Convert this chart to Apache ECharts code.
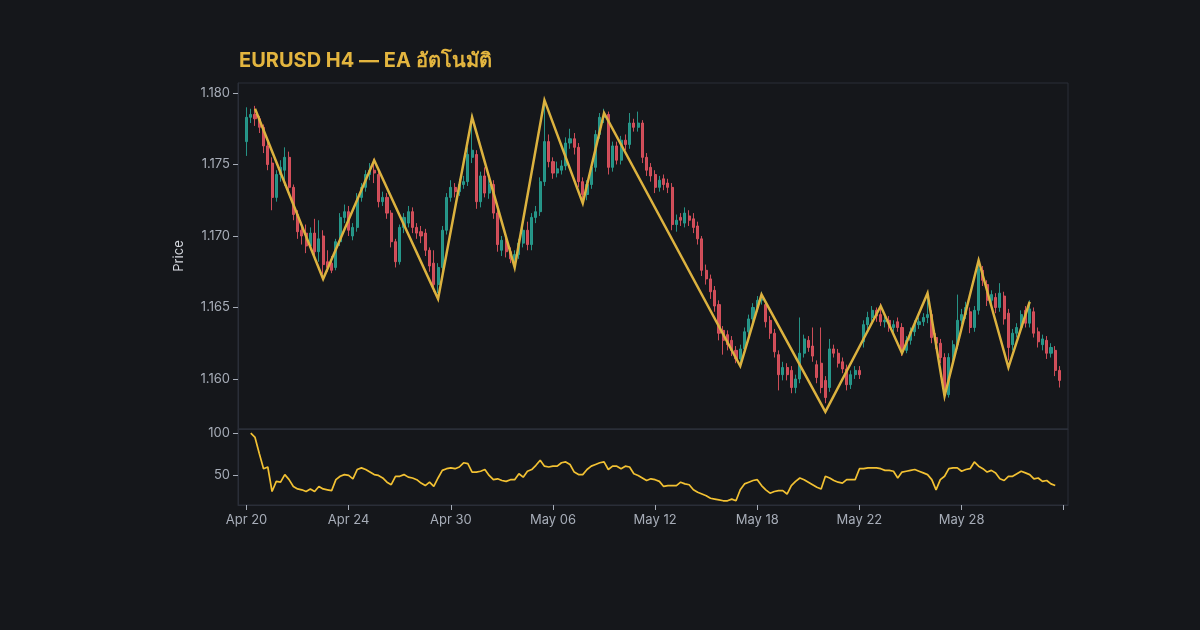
<!DOCTYPE html>
<html>
<head>
<meta charset="utf-8">
<title>EURUSD H4</title>
<script src="https://cdn.jsdelivr.net/npm/echarts@6/dist/echarts.min.js"></script>
<style>
  html, body { margin: 0; padding: 0; background: #15171b; }
  #chart { width: 1200px; height: 630px; }
</style>
</head>
<body>
<div id="chart"></div>
<script>
// x axis labels (every 24 H4 bars = 4 trading days)
const dateLabels = ['Apr 20', 'Apr 24', 'Apr 30', 'May 06', 'May 12', 'May 18', 'May 22', 'May 28'];
const labelBars = [0, 24, 48, 72, 96, 120, 144, 168];
const tickBars = [0, 24, 48, 72, 96, 120, 144, 168, 192];

const priceTicks = [1.160, 1.165, 1.170, 1.175, 1.180];
const rsiTicks = [50, 100];

// H4 candles: [open, close, low, high]
const ohlc = [
  [1.1766, 1.1783, 1.1756, 1.1790], [1.1783, 1.1785, 1.1779, 1.1789], [1.1785, 1.1782, 1.1777, 1.1791],
  [1.1782, 1.1776, 1.1772, 1.1784], [1.1776, 1.1763, 1.1758, 1.1778], [1.1763, 1.1750, 1.1746, 1.1766],
  [1.1751, 1.1727, 1.1718, 1.1755], [1.1727, 1.1743, 1.1724, 1.1746], [1.1743, 1.1748, 1.1738, 1.1753],
  [1.1746, 1.1755, 1.1735, 1.1762], [1.1755, 1.1734, 1.1730, 1.1759], [1.1734, 1.1715, 1.1711, 1.1736],
  [1.1715, 1.1703, 1.1698, 1.1718], [1.1704, 1.1700, 1.1694, 1.1709], [1.1702, 1.1693, 1.1688, 1.1708],
  [1.1693, 1.1702, 1.1690, 1.1706], [1.1702, 1.1689, 1.1684, 1.1712], [1.1689, 1.1698, 1.1682, 1.1711],
  [1.1700, 1.1680, 1.1673, 1.1704], [1.1682, 1.1678, 1.1675, 1.1690], [1.1681, 1.1676, 1.1674, 1.1686],
  [1.1678, 1.1696, 1.1676, 1.1698], [1.1696, 1.1713, 1.1693, 1.1716], [1.1713, 1.1717, 1.1709, 1.1722],
  [1.1717, 1.1704, 1.1700, 1.1721], [1.1700, 1.1706, 1.1697, 1.1709], [1.1706, 1.1727, 1.1703, 1.1730],
  [1.1727, 1.1734, 1.1724, 1.1737], [1.1734, 1.1743, 1.1731, 1.1746], [1.1743, 1.1746, 1.1739, 1.1751],
  [1.1746, 1.1744, 1.1737, 1.1754], [1.1743, 1.1724, 1.1720, 1.1746], [1.1724, 1.1727, 1.1721, 1.1731],
  [1.1727, 1.1716, 1.1712, 1.1730], [1.1716, 1.1696, 1.1692, 1.1718], [1.1696, 1.1682, 1.1678, 1.1698],
  [1.1682, 1.1706, 1.1680, 1.1708], [1.1706, 1.1713, 1.1702, 1.1716], [1.1709, 1.1717, 1.1706, 1.1721],
  [1.1717, 1.1706, 1.1702, 1.1720], [1.1706, 1.1702, 1.1698, 1.1709], [1.1703, 1.1700, 1.1695, 1.1707],
  [1.1702, 1.1690, 1.1686, 1.1705], [1.1690, 1.1679, 1.1675, 1.1692], [1.1681, 1.1666, 1.1661, 1.1690],
  [1.1666, 1.1678, 1.1660, 1.1681], [1.1678, 1.1704, 1.1675, 1.1707], [1.1704, 1.1727, 1.1701, 1.1730],
  [1.1727, 1.1734, 1.1724, 1.1739], [1.1734, 1.1731, 1.1727, 1.1737], [1.1731, 1.1736, 1.1728, 1.1740],
  [1.1736, 1.1738, 1.1733, 1.1742], [1.1738, 1.1757, 1.1735, 1.1762], [1.1755, 1.1760, 1.1751, 1.1785],
  [1.1757, 1.1724, 1.1719, 1.1760], [1.1724, 1.1742, 1.1720, 1.1745], [1.1742, 1.1730, 1.1727, 1.1748],
  [1.1730, 1.1736, 1.1726, 1.1740], [1.1736, 1.1716, 1.1712, 1.1739], [1.1716, 1.1694, 1.1689, 1.1718],
  [1.1690, 1.1697, 1.1686, 1.1700], [1.1697, 1.1689, 1.1685, 1.1700], [1.1689, 1.1684, 1.1681, 1.1692],
  [1.1682, 1.1687, 1.1678, 1.1690], [1.1687, 1.1695, 1.1684, 1.1698], [1.1695, 1.1704, 1.1692, 1.1707],
  [1.1704, 1.1694, 1.1690, 1.1710], [1.1694, 1.1713, 1.1690, 1.1716], [1.1713, 1.1717, 1.1709, 1.1721],
  [1.1717, 1.1738, 1.1714, 1.1741], [1.1738, 1.1766, 1.1735, 1.1796], [1.1766, 1.1752, 1.1748, 1.1771],
  [1.1752, 1.1744, 1.1740, 1.1755], [1.1744, 1.1747, 1.1741, 1.1752], [1.1746, 1.1749, 1.1743, 1.1753],
  [1.1749, 1.1765, 1.1746, 1.1769], [1.1765, 1.1768, 1.1761, 1.1775], [1.1768, 1.1762, 1.1757, 1.1772],
  [1.1762, 1.1738, 1.1734, 1.1765], [1.1738, 1.1729, 1.1722, 1.1741], [1.1729, 1.1736, 1.1725, 1.1739],
  [1.1736, 1.1748, 1.1733, 1.1751], [1.1748, 1.1771, 1.1745, 1.1774], [1.1771, 1.1783, 1.1768, 1.1786],
  [1.1783, 1.1785, 1.1779, 1.1789], [1.1785, 1.1748, 1.1743, 1.1787], [1.1748, 1.1763, 1.1745, 1.1766],
  [1.1763, 1.1753, 1.1750, 1.1766], [1.1753, 1.1767, 1.1750, 1.1770], [1.1767, 1.1764, 1.1760, 1.1771],
  [1.1764, 1.1779, 1.1761, 1.1786], [1.1779, 1.1776, 1.1773, 1.1782], [1.1776, 1.1779, 1.1773, 1.1787],
  [1.1779, 1.1755, 1.1751, 1.1781], [1.1755, 1.1746, 1.1742, 1.1758], [1.1748, 1.1742, 1.1738, 1.1751],
  [1.1743, 1.1734, 1.1730, 1.1746], [1.1734, 1.1739, 1.1731, 1.1742], [1.1740, 1.1736, 1.1732, 1.1743],
  [1.1737, 1.1734, 1.1730, 1.1740], [1.1734, 1.1708, 1.1704, 1.1737], [1.1708, 1.1711, 1.1703, 1.1715],
  [1.1713, 1.1711, 1.1707, 1.1716], [1.1709, 1.1716, 1.1706, 1.1720], [1.1714, 1.1711, 1.1707, 1.1718],
  [1.1712, 1.1706, 1.1702, 1.1716], [1.1707, 1.1698, 1.1694, 1.1710], [1.1698, 1.1676, 1.1672, 1.1700],
  [1.1676, 1.1670, 1.1666, 1.1680], [1.1670, 1.1661, 1.1656, 1.1673], [1.1662, 1.1651, 1.1647, 1.1665],
  [1.1652, 1.1632, 1.1627, 1.1655], [1.1634, 1.1627, 1.1617, 1.1637], [1.1631, 1.1624, 1.1620, 1.1634],
  [1.1627, 1.1620, 1.1616, 1.1630], [1.1620, 1.1614, 1.1611, 1.1623], [1.1614, 1.1621, 1.1610, 1.1624],
  [1.1621, 1.1633, 1.1618, 1.1636], [1.1633, 1.1642, 1.1630, 1.1645], [1.1642, 1.1650, 1.1639, 1.1653],
  [1.1650, 1.1655, 1.1647, 1.1658], [1.1655, 1.1656, 1.1652, 1.1661], [1.1652, 1.1640, 1.1636, 1.1655],
  [1.1641, 1.1632, 1.1628, 1.1644], [1.1632, 1.1619, 1.1615, 1.1635], [1.1617, 1.1603, 1.1592, 1.1620],
  [1.1603, 1.1608, 1.1599, 1.1612], [1.1608, 1.1603, 1.1599, 1.1611], [1.1606, 1.1594, 1.1590, 1.1609],
  [1.1594, 1.1600, 1.1590, 1.1603], [1.1600, 1.1618, 1.1597, 1.1643], [1.1618, 1.1628, 1.1615, 1.1631],
  [1.1627, 1.1622, 1.1619, 1.1630], [1.1623, 1.1616, 1.1612, 1.1636], [1.1610, 1.1601, 1.1597, 1.1613],
  [1.1611, 1.1594, 1.1590, 1.1636], [1.1599, 1.1587, 1.1583, 1.1602], [1.1594, 1.1621, 1.1591, 1.1628],
  [1.1621, 1.1618, 1.1615, 1.1624], [1.1618, 1.1611, 1.1608, 1.1621], [1.1612, 1.1607, 1.1604, 1.1615],
  [1.1607, 1.1596, 1.1592, 1.1610], [1.1596, 1.1603, 1.1593, 1.1606], [1.1603, 1.1606, 1.1600, 1.1609],
  [1.1606, 1.1603, 1.1600, 1.1609], [1.1626, 1.1638, 1.1622, 1.1641], [1.1638, 1.1643, 1.1635, 1.1647],
  [1.1643, 1.1648, 1.1640, 1.1651], [1.1648, 1.1644, 1.1640, 1.1650], [1.1645, 1.1640, 1.1637, 1.1653],
  [1.1640, 1.1641, 1.1636, 1.1644], [1.1641, 1.1636, 1.1633, 1.1644], [1.1636, 1.1638, 1.1632, 1.1641],
  [1.1640, 1.1636, 1.1633, 1.1643], [1.1636, 1.1620, 1.1616, 1.1639], [1.1620, 1.1627, 1.1618, 1.1630],
  [1.1627, 1.1633, 1.1624, 1.1636], [1.1633, 1.1638, 1.1630, 1.1641], [1.1638, 1.1640, 1.1635, 1.1643],
  [1.1640, 1.1643, 1.1637, 1.1646], [1.1643, 1.1645, 1.1639, 1.1660], [1.1645, 1.1629, 1.1625, 1.1648],
  [1.1629, 1.1625, 1.1621, 1.1632], [1.1625, 1.1615, 1.1611, 1.1628], [1.1615, 1.1589, 1.1585, 1.1618],
  [1.1589, 1.1615, 1.1587, 1.1618], [1.1615, 1.1624, 1.1612, 1.1627], [1.1624, 1.1641, 1.1621, 1.1659],
  [1.1641, 1.1645, 1.1638, 1.1649], [1.1645, 1.1650, 1.1642, 1.1654], [1.1647, 1.1636, 1.1632, 1.1650],
  [1.1636, 1.1648, 1.1633, 1.1651], [1.1648, 1.1677, 1.1645, 1.1685], [1.1676, 1.1669, 1.1665, 1.1679],
  [1.1666, 1.1655, 1.1651, 1.1669], [1.1655, 1.1659, 1.1652, 1.1662], [1.1657, 1.1650, 1.1646, 1.1660],
  [1.1650, 1.1660, 1.1647, 1.1667], [1.1658, 1.1642, 1.1638, 1.1661], [1.1646, 1.1622, 1.1613, 1.1649],
  [1.1624, 1.1632, 1.1620, 1.1635], [1.1632, 1.1636, 1.1629, 1.1639], [1.1636, 1.1645, 1.1633, 1.1648],
  [1.1648, 1.1639, 1.1636, 1.1651], [1.1639, 1.1649, 1.1636, 1.1655], [1.1647, 1.1632, 1.1629, 1.1650],
  [1.1633, 1.1626, 1.1622, 1.1636], [1.1624, 1.1628, 1.1620, 1.1631], [1.1627, 1.1618, 1.1614, 1.1630],
  [1.1618, 1.1622, 1.1615, 1.1625], [1.1620, 1.1606, 1.1602, 1.1623], [1.1606, 1.1599, 1.1594, 1.1609]
];

// ZigZag pivots: [bar index, price]
const zigzag = [
  [2, 1.1789], [18, 1.1670], [30, 1.1753], [45, 1.1656], [53, 1.1783], [63, 1.1678], [70, 1.1795],
  [79, 1.1723], [84, 1.1786], [116, 1.1609], [121, 1.1659], [136, 1.1577], [149, 1.1651], [154, 1.1618],
  [160, 1.1660], [164, 1.1588], [172, 1.1683], [179, 1.1608], [184, 1.1654]
];

// oscillator under the price (first bar has no value)
const rsi = [
  '-', 100, 95, 76, 58, 60, 31, 43, 42, 51, 45, 37, 34, 33, 31, 34, 31, 37, 34, 33,
  32, 45, 49, 51, 50, 46, 57, 59, 57, 54, 51, 50, 47, 42, 39, 49, 49, 51, 48, 47,
  45, 41, 38, 42, 37, 47, 56, 58, 59, 58, 60, 65, 64, 54, 54, 55, 57, 50, 45, 46,
  44, 43, 45, 45, 52, 48, 55, 57, 62, 68, 61, 60, 61, 61, 65, 66, 63, 54, 51, 51,
  57, 61, 63, 65, 66, 57, 61, 61, 58, 61, 60, 52, 50, 47, 44, 46, 45, 43, 37, 38,
  38, 38, 42, 40, 39, 33, 30, 28, 26, 23, 22, 21, 20, 20, 22, 20, 33, 40, 42, 44,
  45, 38, 33, 29, 31, 32, 32, 28, 38, 43, 47, 45, 42, 39, 36, 34, 49, 47, 44, 42,
  41, 45, 45, 45, 58, 58, 59, 59, 59, 58, 56, 56, 55, 47, 54, 55, 56, 57, 55, 53,
  51, 45, 33, 45, 49, 58, 59, 59, 55, 57, 58, 66, 61, 58, 54, 56, 53, 46, 44, 49,
  49, 52, 55, 53, 51, 46, 47, 43, 44, 40, 38
];

const UP = '#28a091';
const DOWN = '#e0535f';
const GOLD = '#dcb23f';
const AXIS_TEXT = '#a7adb8';
const BORDER = '#2a2e38';
const FONT = 'Inter, "Noto Sans", "DejaVu Sans", sans-serif';

const chart = echarts.init(document.getElementById('chart'));

const candleData = ohlc.map((r, i) => [i, r[0], r[1], r[2], r[3]]);
const rsiData = rsi.map((v, i) => [i, v]);

const xCommon = {
  type: 'value',
  min: -2,
  max: 193,
  splitLine: { show: false },
  axisLine: { show: true, onZero: false, lineStyle: { color: BORDER } }
};

chart.setOption({
  backgroundColor: '#15171b',
  animation: false,
  title: {
    text: 'EURUSD H4 — EA อัตโนมัติ',
    left: 234,
    top: 46,
    textStyle: { color: '#e3b53f', fontSize: 20, fontWeight: 'bold', fontFamily: FONT }
  },
  grid: [
    { left: 238, right: 132, top: 83, height: 346, show: true, borderColor: BORDER, borderWidth: 1, backgroundColor: 'transparent' },
    { left: 238, right: 132, top: 429, height: 76, show: true, borderColor: BORDER, borderWidth: 1, backgroundColor: 'transparent' }
  ],
  xAxis: [
    Object.assign({}, xCommon, {
      gridIndex: 0,
      axisTick: { show: false },
      axisLabel: { show: false }
    }),
    Object.assign({}, xCommon, {
      gridIndex: 1,
      axisTick: { show: true, length: 5, lineStyle: { color: AXIS_TEXT }, customValues: tickBars },
      axisLabel: {
        color: AXIS_TEXT,
        fontSize: 13,
        fontFamily: FONT,
        margin: 9,
        customValues: labelBars,
        formatter: function (v) {
          const k = labelBars.indexOf(Math.round(v));
          return k >= 0 ? dateLabels[k] : '';
        }
      }
    })
  ],
  yAxis: [
    {
      type: 'value',
      gridIndex: 0,
      min: 1.1565,
      max: 1.1807,
      name: 'Price',
      nameLocation: 'middle',
      nameGap: 52,
      nameTextStyle: { color: '#d6d9df', fontSize: 13, fontFamily: FONT },
      splitLine: { show: false },
      axisLine: { show: true, onZero: false, lineStyle: { color: BORDER } },
      axisTick: { show: true, length: 5, lineStyle: { color: AXIS_TEXT }, customValues: priceTicks },
      axisLabel: {
        color: AXIS_TEXT,
        fontSize: 13,
        fontFamily: FONT,
        margin: 8,
        customValues: priceTicks,
        formatter: function (v) { return v.toFixed(3); }
      }
    },
    {
      type: 'value',
      gridIndex: 1,
      min: 15,
      max: 105,
      splitLine: { show: false },
      axisLine: { show: true, onZero: false, lineStyle: { color: BORDER } },
      axisTick: { show: true, length: 5, lineStyle: { color: AXIS_TEXT }, customValues: rsiTicks },
      axisLabel: {
        color: AXIS_TEXT,
        fontSize: 13,
        fontFamily: FONT,
        margin: 8,
        customValues: rsiTicks
      }
    }
  ],
  series: [
    {
      name: 'EURUSD',
      type: 'candlestick',
      xAxisIndex: 0,
      yAxisIndex: 0,
      data: candleData,
      encode: { x: 0, y: [1, 2, 3, 4] },
      barWidth: 2.6,
      itemStyle: {
        color: UP,
        color0: DOWN,
        borderColor: UP,
        borderColor0: DOWN,
        borderWidth: 1,
        opacity: 0.9
      }
    },
    {
      name: 'ZigZag',
      type: 'line',
      xAxisIndex: 0,
      yAxisIndex: 0,
      data: zigzag,
      symbol: 'none',
      lineStyle: { color: GOLD, width: 2.5, join: 'miter' },
      z: 5
    },
    {
      name: 'RSI',
      type: 'line',
      xAxisIndex: 1,
      yAxisIndex: 1,
      data: rsiData,
      symbol: 'none',
      connectNulls: false,
      lineStyle: { color: '#f2c133', width: 1.7 }
    }
  ]
});

window.addEventListener('resize', function () {
  chart.resize();
});
</script>
</body>
</html>
